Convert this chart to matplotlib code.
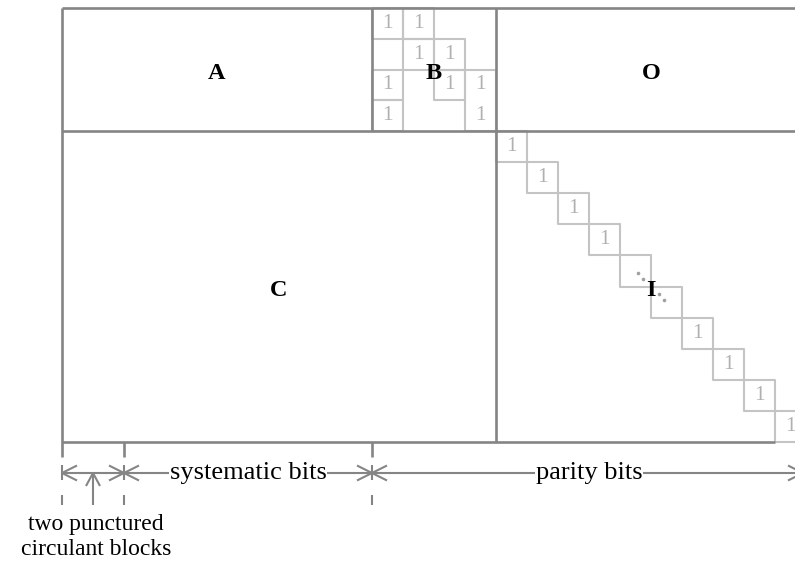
import matplotlib
matplotlib.use('Agg')
import matplotlib.pyplot as plt

# ---------------- data ----------------
block_labels = ['A', 'B', 'O', 'C', 'I']
# cells of B that hold a '1' (row, col)
b_ones = [(0, 0), (0, 1), (1, 1), (1, 2), (2, 0), (2, 2), (2, 3), (3, 0), (3, 3)]
# outlined boxes inside B (row, col, number of rows)
b_boxes = [(0, 0, 1), (0, 1, 1), (1, 1, 1), (1, 2, 1), (2, 0, 1), (2, 2, 1), (2, 3, 2), (3, 0, 1)]
# marks on the identity diagonal of I
diag_marks = ['1', '1', '1', '1', '', '', '1', '1', '1', '1']
span_labels = ['systematic bits', 'parity bits']
note_label = 'two punctured\ncirculant blocks'

# ---------------- layout (pixels) ----------------
x0, x1, xb, xo, xr = 62, 124, 372, 496, 806
y0, ym, yb = 8, 131, 442
ya = 473  # arrow row

dark = '#858585'
light = '#c4c4c4'
txt1 = '#b0b0b0'
serif = ['Liberation Serif', 'DejaVu Serif']

fig = plt.figure(figsize=(7.95, 5.64), dpi=100)
ax = fig.add_axes([0, 0, 1, 1])
ax.set_xlim(0, 795)
ax.set_ylim(564, 0)
ax.axis('off')


def seg(xs, ys, color=dark, lw=1.9, z=3):
    ax.plot(xs, ys, color=color, lw=lw, solid_capstyle='butt', zorder=z)


# ---- B grid ----
cw = (xo - xb) / 4
ch = (ym - y0) / 4
for r, c, n in b_boxes:
    xa, ya_ = xb + c * cw, y0 + r * ch
    seg([xa, xa + cw, xa + cw, xa, xa], [ya_, ya_, ya_ + n * ch, ya_ + n * ch, ya_], color=light, lw=1.5, z=2)
for r, c in b_ones:
    ax.text(xb + (c + 0.5) * cw, y0 + (r + 0.5) * ch, '1', color=txt1, fontsize=15.5,
            family=serif, ha='center', va='center', zorder=4)

# ---- I diagonal ----
dw = 31.0
dh = (yb - ym) / len(diag_marks)
for k, m in enumerate(diag_marks):
    xa, ya_ = xo + k * dw, ym + k * dh
    seg([xa, xa + dw, xa + dw, xa, xa], [ya_, ya_, ya_ + dh, ya_ + dh, ya_], color=light, lw=1.5, z=2)
    if m:
        ax.text(xa + dw / 2, ya_ + dh / 2, m, color=txt1, fontsize=15.5,
                family=serif, ha='center', va='center', zorder=4)
# diagonal dots in the two empty cells
kd = diag_marks.index('')
cx0, cy0 = xo + (kd + 0.5) * dw, ym + (kd + 0.5) * dh
for t in [0.08, 0.25, 0.75, 0.92]:
    ax.plot(cx0 + t * dw, cy0 + t * dh, 'o', ms=2.6, color='#a0a0a0', mec='none', zorder=4)

# ---- block outlines ----
seg([x0, xr], [y0, y0])
seg([x0, xr], [ym, ym])
seg([x0, xo + 9 * dw], [yb, yb])
seg([x0, x0], [y0, 457])
seg([xb, xb], [y0, ym])
seg([xo, xo], [y0, yb])
for x in [x1, xb]:
    seg([x, x], [yb, 457])
# dashed extension lines
for x in [x0, x1, xb]:
    for d0, d1 in [(465, 480), (495, 505)]:
        seg([x, x], [d0, d1], lw=1.5)

# ---- block labels ----
label_pos = [((x0 + xb) / 2, (y0 + ym) / 2), ((xb + xo) / 2, (y0 + ym) / 2),
             ((xo + xr) / 2, (y0 + ym) / 2), ((x0 + xo) / 2, (ym + yb) / 2),
             ((xo + xr) / 2, (ym + yb) / 2)]
for lab, (x, y) in zip(block_labels, label_pos):
    ax.text(x, y + 4, lab, fontsize=17.5, fontweight='bold', family=serif,
            ha='center', va='center', color='black', zorder=6)


# ---- dimension arrows ----
def chevron(tx, ty, dx, dy):
    # open arrowhead, tip at (tx, ty)
    if dy == 0:
        seg([tx + dx, tx, tx + dx], [ty - 7.5, ty, ty + 7.5], lw=1.5)
    else:
        seg([tx - 7, tx, tx + 7], [ty + dy, ty, ty + dy], lw=1.5)


seg([x0, xr], [ya, ya], lw=1.5, z=3)
chevron(x0, ya, 15, 0)
for x in [x1, xb]:
    chevron(x, ya, -15, 0)
    chevron(x, ya, 15, 0)
chevron(xr - 3, ya, -15, 0)

ax.text((x1 + xb) / 2, ya, span_labels[0], fontsize=19, family=serif, ha='center', va='center',
        bbox=dict(facecolor='white', edgecolor='none', pad=0.3), zorder=5)
ax.text((xb + xr) / 2, ya, span_labels[1], fontsize=19, family=serif, ha='center', va='center',
        bbox=dict(facecolor='white', edgecolor='none', pad=0.3), zorder=5)

# pointer to the punctured blocks
xp = (x0 + x1) / 2
seg([xp, xp], [ya, 505], lw=1.5)
chevron(xp, ya, 0, 13)
ax.text(xp + 3, 537, note_label, fontsize=17, family=serif, ha='center', va='center',
        linespacing=1.25)

fig.savefig('out.png', dpi=100)
